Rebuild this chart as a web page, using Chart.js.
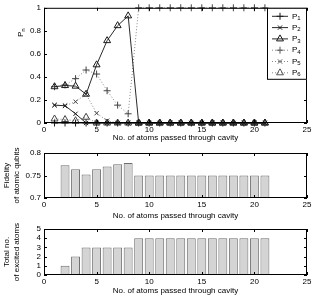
<!DOCTYPE html>
<html>
<head>
<meta charset="utf-8">
<script src="https://cdn.jsdelivr.net/npm/chart.js@4/dist/chart.umd.min.js"></script>
<style>
  html, body { margin: 0; padding: 0; background: #fff; }
  #wrap { position: relative; width: 315px; height: 296px; }
  canvas { position: absolute; left: 0; }
</style>
</head>
<body>
<div id="wrap">
  <canvas id="pChart" width="315" height="145" style="top:0px"></canvas>
  <canvas id="fidChart" width="315" height="76" style="top:145px"></canvas>
  <canvas id="excChart" width="315" height="75" style="top:221px"></canvas>
</div>
<script>
// atoms passed through the cavity
const atoms = [1, 2, 3, 4, 5, 6, 7, 8, 9, 10, 11, 12, 13, 14, 15, 16, 17, 18, 19, 20, 21]

// populations P1..P6
const p1 = [0, 0, 0, 0, 0, 0, 0, 0, 0, 0, 0, 0, 0, 0, 0, 0, 0, 0, 0, 0, 0]
const p2 = [0.155, 0.15, 0.08, 0, 0, 0, 0, 0, 0, 0, 0, 0, 0, 0, 0, 0, 0, 0, 0, 0, 0]
const p3 = [0.315, 0.325, 0.32, 0.25, 0.505, 0.715, 0.845, 0.93, 0, 0, 0, 0, 0, 0, 0, 0, 0, 0, 0, 0, 0]
const p4 = [0.315, 0.33, 0.385, 0.46, 0.425, 0.28, 0.155, 0.08, 1, 1, 1, 1, 1, 1, 1, 1, 1, 1, 1, 1, 1]
const p5 = [0.155, 0.15, 0.185, 0.25, 0.085, 0.02, 0, 0, 0, 0, 0, 0, 0, 0, 0, 0, 0, 0, 0, 0, 0]
const p6 = [0.035, 0.03, 0.02, 0.05, 0, 0, 0, 0, 0, 0, 0, 0, 0, 0, 0, 0, 0, 0, 0, 0, 0]

// bar panels
const barAtoms = [2, 3, 4, 5, 6, 7, 8, 9, 10, 11, 12, 13, 14, 15, 16, 17, 18, 19, 20, 21]
const fidelity = [0.773, 0.764, 0.752, 0.764, 0.770, 0.775, 0.778, 0.75, 0.75, 0.75, 0.75, 0.75, 0.75, 0.75, 0.75, 0.75, 0.75, 0.75, 0.75, 0.75]
const excited = [1, 2, 3, 3, 3, 3, 3, 4, 4, 4, 4, 4, 4, 4, 4, 4, 4, 4, 4, 4]

// tick labels
const xTicks = [0, 5, 10, 15, 20, 25]
const pTicks = [0, 0.2, 0.4, 0.6, 0.8, 1]
const fidTicks = [0.7, 0.75, 0.8]
const excTicks = [0, 1, 2, 3, 4, 5]

const xTitle = 'No. of atoms passed through cavity'

Chart.defaults.font.family = "'Liberation Sans', Arial, sans-serif"
Chart.defaults.font.size = 8
Chart.defaults.color = '#000'
Chart.defaults.animation = false

const fixTicks = values => scale => { scale.ticks = values.map(v => ({ value: v })) }
const fmt = v => String(+Number(v).toFixed(2))

function xAxis(height, titlePad) {
    return {
        type: 'linear', min: 0, max: 25, offset: false,
        afterBuildTicks: fixTicks(xTicks),
        afterFit: s => { s.height = height },
        grid: { display: false, drawTicks: false },
        border: { display: false },
        ticks: { padding: 2, maxRotation: 0, autoSkip: false, callback: fmt },
        title: { display: true, text: xTitle, padding: { top: 0, bottom: titlePad } },
    }
}

function yAxis(min, max, ticks, title) {
    return {
        min: min, max: max,
        afterBuildTicks: fixTicks(ticks),
        afterFit: s => { s.width = 44 },
        grid: { display: false, drawTicks: false },
        border: { display: false },
        ticks: { padding: 3, autoSkip: false, callback: fmt },
        title: title ? { display: true, text: title, padding: { top: 2, bottom: 0 } } : { display: false },
    }
}

// matlab style box with inward ticks on all sides
const frame = {
    id: 'frame',
    afterDraw(chart) {
        const { ctx, chartArea: a, scales: { x, y } } = chart
        ctx.save()
        ctx.strokeStyle = '#000'
        ctx.lineWidth = 1
        ctx.strokeRect(a.left + 0.5, a.top + 0.5, a.right - a.left - 1, a.bottom - a.top - 1)
        ctx.beginPath()
        x.ticks.forEach(t => {
            const px = Math.round(x.getPixelForValue(t.value)) + 0.5
            ctx.moveTo(px, a.bottom); ctx.lineTo(px, a.bottom - 3)
            ctx.moveTo(px, a.top); ctx.lineTo(px, a.top + 3)
        })
        y.ticks.forEach(t => {
            const py = Math.round(y.getPixelForValue(t.value)) + 0.5
            ctx.moveTo(a.left, py); ctx.lineTo(a.left + 3, py)
            ctx.moveTo(a.right, py); ctx.lineTo(a.right - 3, py)
        })
        ctx.stroke()
        ctx.restore()
    }
}

function subText(ctx, base, sub, x, y) {
    ctx.font = "8px 'Liberation Sans', Arial, sans-serif"
    ctx.fillText(base, x, y)
    const w = ctx.measureText(base).width
    ctx.font = "6px 'Liberation Sans', Arial, sans-serif"
    ctx.fillText(sub, x + w, y + 2)
}

const legendBox = {
    id: 'legendBox',
    afterDraw(chart) {
        const { ctx, chartArea: a } = chart
        const w = 40, h = 72
        const x0 = a.right - w, y0 = a.top
        ctx.save()
        ctx.fillStyle = '#fff'
        ctx.fillRect(x0, y0, w, h)
        ctx.strokeStyle = '#000'
        ctx.lineWidth = 1
        ctx.strokeRect(x0 + 0.5, y0 + 0.5, w - 1, h - 1)
        chart.data.datasets.forEach((ds, i) => {
            const cy = y0 + 8.5 + i * 11.3
            ctx.strokeStyle = ds.borderColor
            ctx.lineWidth = ds.borderWidth
            ctx.setLineDash(ds.borderDash)
            ctx.beginPath()
            ctx.moveTo(x0 + 5, cy); ctx.lineTo(x0 + 21, cy)
            ctx.stroke()
            ctx.setLineDash([])
            ctx.strokeStyle = ds.pointBorderColor
            ctx.fillStyle = ds.pointBackgroundColor
            Chart.helpers.drawPoint(ctx, { pointStyle: ds.pointStyle, radius: ds.pointRadius, rotation: 0, borderWidth: ds.pointBorderWidth }, x0 + 13, cy)
            ctx.fillStyle = '#000'
            ctx.textBaseline = 'middle'
            ctx.textAlign = 'left'
            subText(ctx, ds.label[0], ds.label.slice(1), x0 + 25, cy)
        })
        ctx.restore()
    }
}

const pnTitle = {
    id: 'pnTitle',
    afterDraw(chart) {
        const { ctx } = chart
        ctx.save()
        ctx.translate(21, 33)
        ctx.rotate(-Math.PI / 2)
        ctx.fillStyle = '#000'
        ctx.textBaseline = 'middle'
        ctx.textAlign = 'left'
        subText(ctx, 'P', 'n', -4, 0)
        ctx.restore()
    }
}

const radius = { cross: 3.5, crossRot: 3, triangle: 4 }

function series(label, values, style, dotted) {
    return {
        label: label,
        data: atoms.map((a, i) => ({ x: a, y: values[i] })),
        borderColor: dotted ? '#7a7a7a' : '#2a2a2a',
        borderWidth: dotted ? 0.9 : 1,
        borderDash: dotted ? [1, 2] : [],
        pointStyle: style,
        pointRadius: radius[style],
        pointBorderColor: dotted ? '#444' : '#1a1a1a',
        pointBackgroundColor: 'rgba(0,0,0,0)',
        pointBorderWidth: 1,
        tension: 0,
        clip: false,
    }
}

new Chart(document.getElementById('pChart'), {
    type: 'line',
    data: {
        datasets: [
            series('P1', p1, 'cross', false),
            series('P2', p2, 'crossRot', false),
            series('P3', p3, 'triangle', false),
            series('P4', p4, 'cross', true),
            series('P5', p5, 'crossRot', true),
            series('P6', p6, 'triangle', true),
        ]
    },
    options: {
        responsive: false,
        layout: { padding: { left: 0, top: 7, right: 8, bottom: 0 } },
        plugins: { legend: { display: false }, tooltip: { enabled: false } },
        scales: {
            x: xAxis(22, 2),
            y: yAxis(0, 1, pTicks, null),
        }
    },
    plugins: [frame, legendBox, pnTitle]
})

function barChart(id, values, min, max, ticks, title, xHeight, titlePad) {
    return new Chart(document.getElementById(id), {
        type: 'bar',
        data: {
            datasets: [{
                label: '',
                data: barAtoms.map((a, i) => ({ x: a, y: values[i] })),
                backgroundColor: '#d4d4d4',
                borderColor: '#6e6e6e',
                borderWidth: 1,
                borderSkipped: false,
                barPercentage: 0.85,
                categoryPercentage: 1,
            }]
        },
        options: {
            responsive: false,
            layout: { padding: { left: 0, top: 8, right: 8, bottom: 0 } },
            plugins: { legend: { display: false }, tooltip: { enabled: false } },
            scales: {
                x: xAxis(xHeight, titlePad),
                y: yAxis(min, max, ticks, title),
            }
        },
        plugins: [frame]
    })
}

barChart('fidChart', fidelity, 0.7, 0.8, fidTicks, ['Fidelity', 'of atomic qubits'], 23, 0)
barChart('excChart', excited, 0, 5, excTicks, ['Total no.', 'of excited atoms'], 21, 0)
</script>
</body>
</html>
